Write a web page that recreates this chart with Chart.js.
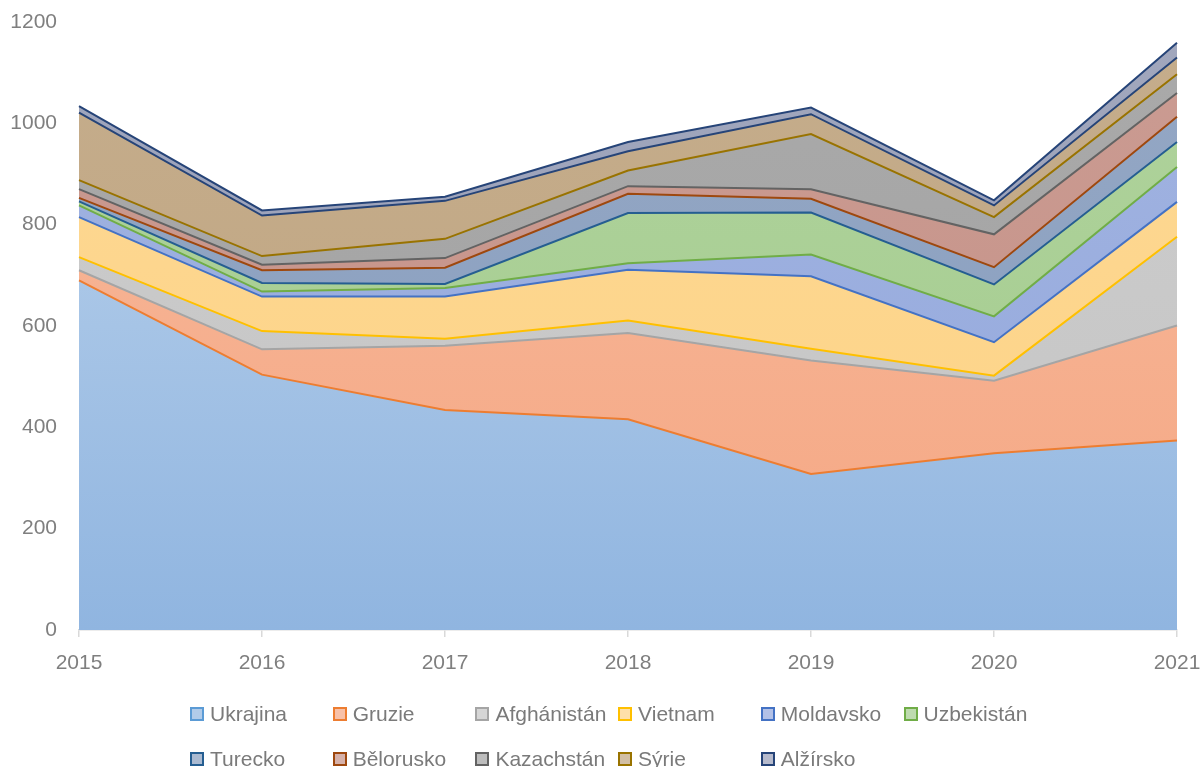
<!DOCTYPE html>
<html>
<head>
<meta charset="utf-8">
<script src="https://cdn.jsdelivr.net/npm/chart.js@4"></script>
<style>
  html, body { margin: 0; padding: 0; background: #fff; }
  #wrap { position: relative; width: 1202px; height: 767px; overflow: hidden; }
  #box { position: absolute; left: 0; top: 0; width: 1202px; height: 680px; }
  #legend { position: absolute; left: 0; top: 0; width: 1202px; height: 767px; pointer-events: none;
            font-family: "Liberation Sans", Arial, sans-serif; font-size: 21px; color: #7a7a7a; }
  .item { position: absolute; display: flex; align-items: center; white-space: nowrap; height: 26px; }
  .sw { width: 10px; height: 10px; border: 2px solid; margin-right: 6px; }
</style>
</head>
<body>
<div id="wrap">
  <div id="box"><canvas id="myChart"></canvas></div>
  <div id="legend"></div>
</div>
<script>
const years = ['2015', '2016', '2017', '2018', '2019', '2020', '2021'];
const countries = ['Ukrajina', 'Gruzie', 'Afghánistán', 'Vietnam', 'Moldavsko', 'Uzbekistán',
                   'Turecko', 'Bělorusko', 'Kazachstán', 'Sýrie', 'Alžírsko'];

const ukrajina    = [690, 504, 434, 416, 308, 349, 374];
const gruzie      = [20, 50, 127, 170, 224, 143, 227];
const afghanistan = [26, 36, 14, 25, 23, 10, 175];
const vietnam     = [79, 68, 83, 100, 143, 66, 69];
const moldavsko   = [23, 10, 17, 13, 43, 51, 69];
const uzbekistan  = [8, 17, 8, 99, 83, 63, 49];
const turecko     = [7, 25, 32, 38, 27, 34, 50];
const belorusko   = [17, 11, 19, 15, 19, 65, 47];
const kazachstan  = [18, 17, 38, 31, 109, 34, 37];
const syrie       = [133, 80, 75, 38, 39, 23, 33];
const alzirsko    = [13, 10, 8, 18, 13, 10, 29];

const yTicks = [0, 200, 400, 600, 800, 1000, 1200];

const series = [ukrajina, gruzie, afghanistan, vietnam, moldavsko, uzbekistan,
                turecko, belorusko, kazachstan, syrie, alzirsko];

// line colours (office palette) and area fills
const lineColors = ['#5b9bd5', '#ed7d31', '#a5a5a5', '#ffc000', '#4472c4', '#70ad47',
                    '#255e91', '#9e480e', '#636363', '#997300', '#264478'];
const fillColors = ['#90b5e0', '#f5a783', '#c4c4c4', '#fdd385', '#92a7dc', '#a2cb8c',
                    '#869cbd', '#c48f84', '#a0a0a0', '#bfa47f', '#979db6'];
const lighten = [0.4, 0.2, 0.15, 0.12, 0.15, 0.15, 0.12, 0.12, 0.1, 0.1, 0.1];

function mix(hex, t, target) {
  const n = parseInt(hex.slice(1), 16);
  const r = n >> 16, g = (n >> 8) & 255, b = n & 255;
  const m = v => Math.round(v + (target - v) * t);
  return 'rgb(' + m(r) + ',' + m(g) + ',' + m(b) + ')';
}

function gradFill(i) {
  return function(context) {
    const chart = context.chart;
    const area = chart.chartArea;
    if (!area) return fillColors[i];
    const g = chart.ctx.createLinearGradient(0, area.top, 0, area.bottom);
    g.addColorStop(0, mix(fillColors[i], lighten[i], 255));
    g.addColorStop(1, fillColors[i]);
    return g;
  };
}

const datasets = series.map((data, i) => ({
  label: countries[i],
  data: data,
  fill: i === 0 ? 'origin' : '-1',
  backgroundColor: gradFill(i),
  // the visible edge between two bands belongs to the band above it
  borderColor: lineColors[Math.min(i + 1, series.length - 1)],
  borderWidth: 2,
  pointRadius: 0,
  pointHoverRadius: 0,
  tension: 0
}));

const ctx = document.getElementById('myChart');
Chart.defaults.font.family = '"Liberation Sans", Arial, sans-serif';
Chart.defaults.font.size = 21;
Chart.defaults.color = '#7f7f7f';

const myChart = new Chart(ctx, {
  type: 'line',
  data: { labels: years, datasets: datasets },
  options: {
    responsive: true,
    maintainAspectRatio: false,
    animation: false,
    layout: { padding: { top: 22, right: 25, left: 0, bottom: 0 } },
    plugins: {
      legend: { display: false },
      tooltip: { enabled: false }
    },
    scales: {
      x: {
        grid: { drawOnChartArea: false, drawTicks: true, tickLength: 7, color: '#d9d9d9', lineWidth: 1.5 },
        border: { color: '#d9d9d9', width: 1.5 },
        ticks: { padding: 14, maxRotation: 0 },
        afterFit: s => { s.height = 50; s.paddingLeft = 0; s.paddingRight = 0; }
      },
      y: {
        stacked: true,
        min: 0,
        max: 1200,
        afterBuildTicks: s => { s.ticks = yTicks.map(v => ({ value: v })); },
        grid: { display: false, drawTicks: false },
        border: { display: false },
        ticks: { padding: 22, callback: v => String(v) },
        afterFit: s => { s.width = 79; s.paddingTop = 0; s.paddingBottom = 0; }
      }
    }
  }
});

// legend: two rows of evenly spaced columns, like the source
const legend = document.getElementById('legend');
countries.forEach((name, i) => {
  const row = Math.floor(i / 6), col = i % 6;
  const el = document.createElement('div');
  el.className = 'item';
  el.style.left = (190 + col * 142.7) + 'px';
  el.style.top = (row === 0 ? 701 : 746) + 'px';
  const sw = document.createElement('div');
  sw.className = 'sw';
  sw.style.borderColor = lineColors[i];
  sw.style.background = mix(fillColors[i], 0.3, 255);
  const t = document.createElement('span');
  t.textContent = name;
  el.appendChild(sw);
  el.appendChild(t);
  legend.appendChild(el);
});
</script>
</body>
</html>
